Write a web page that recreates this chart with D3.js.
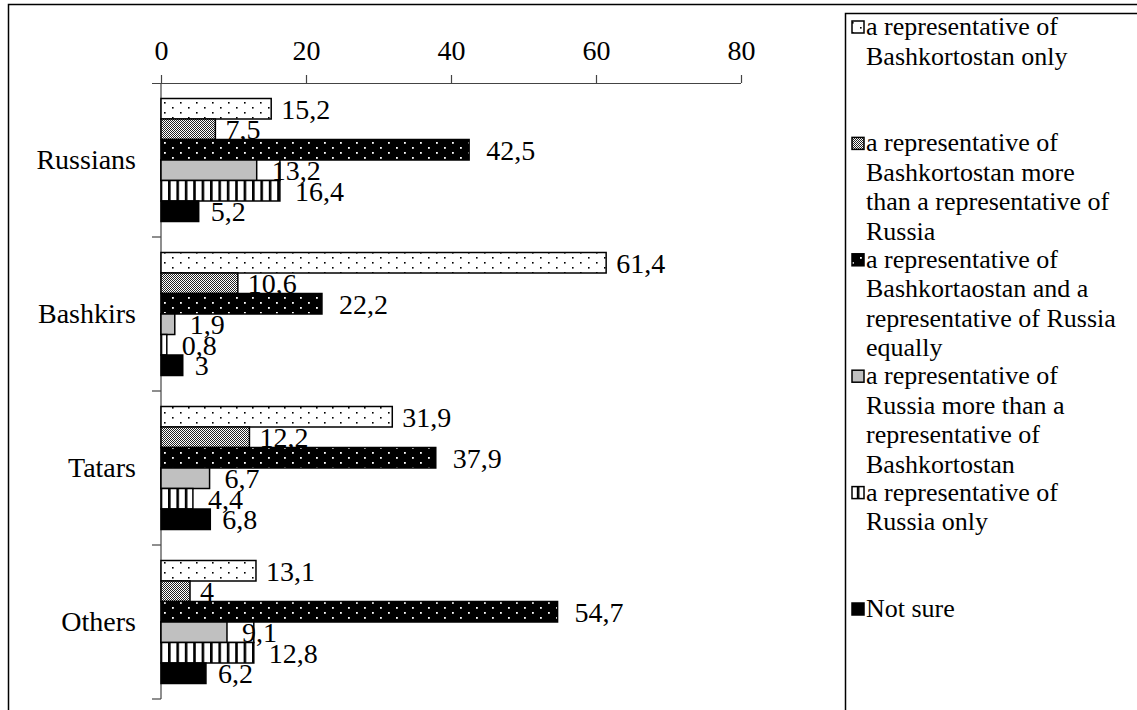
<!DOCTYPE html>
<html><head><meta charset="utf-8"><script src="https://cdn.jsdelivr.net/npm/d3@7"></script></head>
<body style="margin:0">
<svg id="viz" width="1137" height="710"></svg>
<script>
// ---- data ----
const categories = ["Russians", "Bashkirs", "Tatars", "Others"];
const legendLabels = [
  ["a representative of", "Bashkortostan only"],
  ["a representative of", "Bashkortostan more", "than a representative of", "Russia"],
  ["a representative of", "Bashkortaostan and a", "representative of Russia", "equally"],
  ["a representative of", "Russia more than a", "representative of", "Bashkortostan"],
  ["a representative of", "Russia only"],
  ["Not sure"]
];
const onlyBashkortostan   = [15.2, 61.4, 31.9, 13.1];
const moreBashkortostan   = [7.5, 10.6, 12.2, 4];
const equally             = [42.5, 22.2, 37.9, 54.7];
const moreRussia          = [13.2, 1.9, 6.7, 9.1];
const onlyRussia          = [16.4, 0.8, 4.4, 12.8];
const notSure             = [5.2, 3, 6.8, 6.2];
const seriesValues = [onlyBashkortostan, moreBashkortostan, equally, moreRussia, onlyRussia, notSure];
const xTicks = [0, 20, 40, 60, 80];

const FONT = "'Liberation Serif', 'Times New Roman', Tinos, Times, serif";
function serif(sel, size) {
  sel.attr("font-size", size).attr("font-family", FONT)
     .style("font-family", FONT, "important").style("font-size", size + "px", "important");
  return sel;
}

// ---- setup ----
const svg = d3.select("#viz");
const defs = svg.append("defs");

function pat(id, w, h, build) {
  const p = defs.append("pattern").attr("id", id).attr("patternUnits", "userSpaceOnUse")
    .attr("width", w).attr("height", h);
  build(p);
}
pat("p0", 16, 10, p => {
  p.append("rect").attr("width", 16).attr("height", 10).attr("fill", "#fff");
  p.append("rect").attr("x", 4).attr("y", 2).attr("width", 1.6).attr("height", 1.6).attr("fill", "#000");
  p.append("rect").attr("x", 12).attr("y", 7).attr("width", 1.6).attr("height", 1.6).attr("fill", "#000");
});
pat("p1", 4, 4, p => {
  p.append("rect").attr("width", 4).attr("height", 4).attr("fill", "#fff");
  [[0,0],[2,0],[1,1],[3,1],[0,2],[2,2],[1,3],[3,3]].forEach(([a,b]) =>
    p.append("rect").attr("x", a).attr("y", b).attr("width", 1).attr("height", 1).attr("fill", "#222"));
});
pat("p2", 16, 10, p => {
  p.append("rect").attr("width", 16).attr("height", 10).attr("fill", "#000");
  p.append("rect").attr("x", 4).attr("y", 2).attr("width", 1.8).attr("height", 1.8).attr("fill", "#fff");
  p.append("rect").attr("x", 12).attr("y", 7).attr("width", 1.8).attr("height", 1.8).attr("fill", "#fff");
});
pat("p4", 8.4, 10, p => {
  p.append("rect").attr("width", 8.4).attr("height", 10).attr("fill", "#fff");
  p.append("rect").attr("x", 0).attr("width", 2.6).attr("height", 10).attr("fill", "#000");
});
const fills = ["url(#p0)", "url(#p1)", "url(#p2)", "#c0c0c0", "url(#p4)", "#000"];
const labelOffset = [10, 10, 17, 15, 15, 12];

// frame
svg.append("path").attr("d", "M8.5,712 V4.5 H1140").attr("fill", "none").attr("stroke", "#000").attr("stroke-width", 1.5);

const x = d3.scaleLinear().domain([0, 80]).range([161, 741]);
const y = d3.scaleBand().domain(categories).range([83, 699]).paddingInner(0).paddingOuter(0);
const inner = d3.scaleBand().domain(d3.range(seriesValues.length))
  .range([15.5, y.bandwidth() - 15.5]).padding(0);

// x axis (top)
const xAxis = svg.append("g").attr("transform", `translate(0,${y.range()[0]})`)
  .call(d3.axisTop(x).tickValues(xTicks).tickSize(8).tickPadding(15).tickFormat(d3.format("d")));
xAxis.attr("font-family", FONT).attr("font-size", 28);
xAxis.select(".domain").attr("d", `M${x(0) - 9},0.5 H${x(80)}`).attr("stroke", "#444").attr("stroke-width", 1.2);
xAxis.selectAll(".tick line").attr("stroke", "#444").attr("stroke-width", 1.2);
serif(xAxis.selectAll(".tick text").attr("fill", "#000"), 28);

// y axis (left)
const boundaries = categories.map(c => y(c)).concat([y.range()[1]]);
const yAxisG = svg.append("g");
yAxisG.append("line").attr("x1", x(0)).attr("x2", x(0)).attr("y1", y.range()[0]).attr("y2", y.range()[1])
  .attr("stroke", "#444").attr("stroke-width", 1.2);
yAxisG.selectAll("line.tk").data(boundaries.slice(1)).join("line").attr("class", "tk")
  .attr("x1", x(0) - 9).attr("x2", x(0)).attr("y1", d => d).attr("y2", d => d)
  .attr("stroke", "#444").attr("stroke-width", 1.2);
serif(yAxisG.selectAll("text").data(categories).join("text")
  .attr("x", 136).attr("y", d => y(d) + y.bandwidth() / 2 + 9)
  .attr("text-anchor", "end"), 28).text(d => d);

// bars
const fmt = v => String(v).replace(".", ",");
const plot = svg.append("g");
seriesValues.forEach((vals, si) => {
  const g = plot.append("g");
  if (si === 3) {
    plot.insert("g", () => g.node()).selectAll("rect").data(onlyRussia.map((v, i) => ({v, c: categories[i]})))
      .join("rect")
      .attr("x", x(0)).attr("y", d => y(d.c) + inner(3))
      .attr("width", d => x(d.v) - x(0)).attr("height", inner.bandwidth())
      .attr("fill", "#fff").attr("stroke", "#000").attr("stroke-width", 1.5);
  }
  const data = vals.map((v, i) => ({v, c: categories[i]}));
  g.selectAll("rect").data(data).join("rect")
    .attr("x", x(0)).attr("y", d => y(d.c) + inner(si))
    .attr("width", d => x(d.v) - x(0)).attr("height", inner.bandwidth())
    .attr("fill", fills[si]).attr("stroke", "#000").attr("stroke-width", 1.5);
  serif(g.selectAll("text").data(data).join("text")
    .attr("x", d => x(d.v) + labelOffset[si])
    .attr("y", d => y(d.c) + inner(si) + inner.bandwidth() / 2 + 10), 28)
    .text(d => fmt(d.v));
});

// legend
svg.append("path").attr("d", "M845.5,712 V13.5 H1140").attr("fill", "none").attr("stroke", "#000").attr("stroke-width", 1.5);
const legY = d3.scalePoint().domain(d3.range(legendLabels.length)).range([27, 609]);
const lg = svg.append("g");
legendLabels.forEach((lines, i) => {
  const yy = legY(i);
  lg.append("rect").attr("x", 852).attr("y", yy - 6).attr("width", 12).attr("height", 12)
    .attr("fill", fills[i]).attr("stroke", "#000").attr("stroke-width", 1.5);
  lines.forEach((ln, k) => {
    serif(lg.append("text").attr("x", 866).attr("y", yy + 8 + k * 29.5), 26).text(ln);
  });
});
</script>
</body>
</html>
